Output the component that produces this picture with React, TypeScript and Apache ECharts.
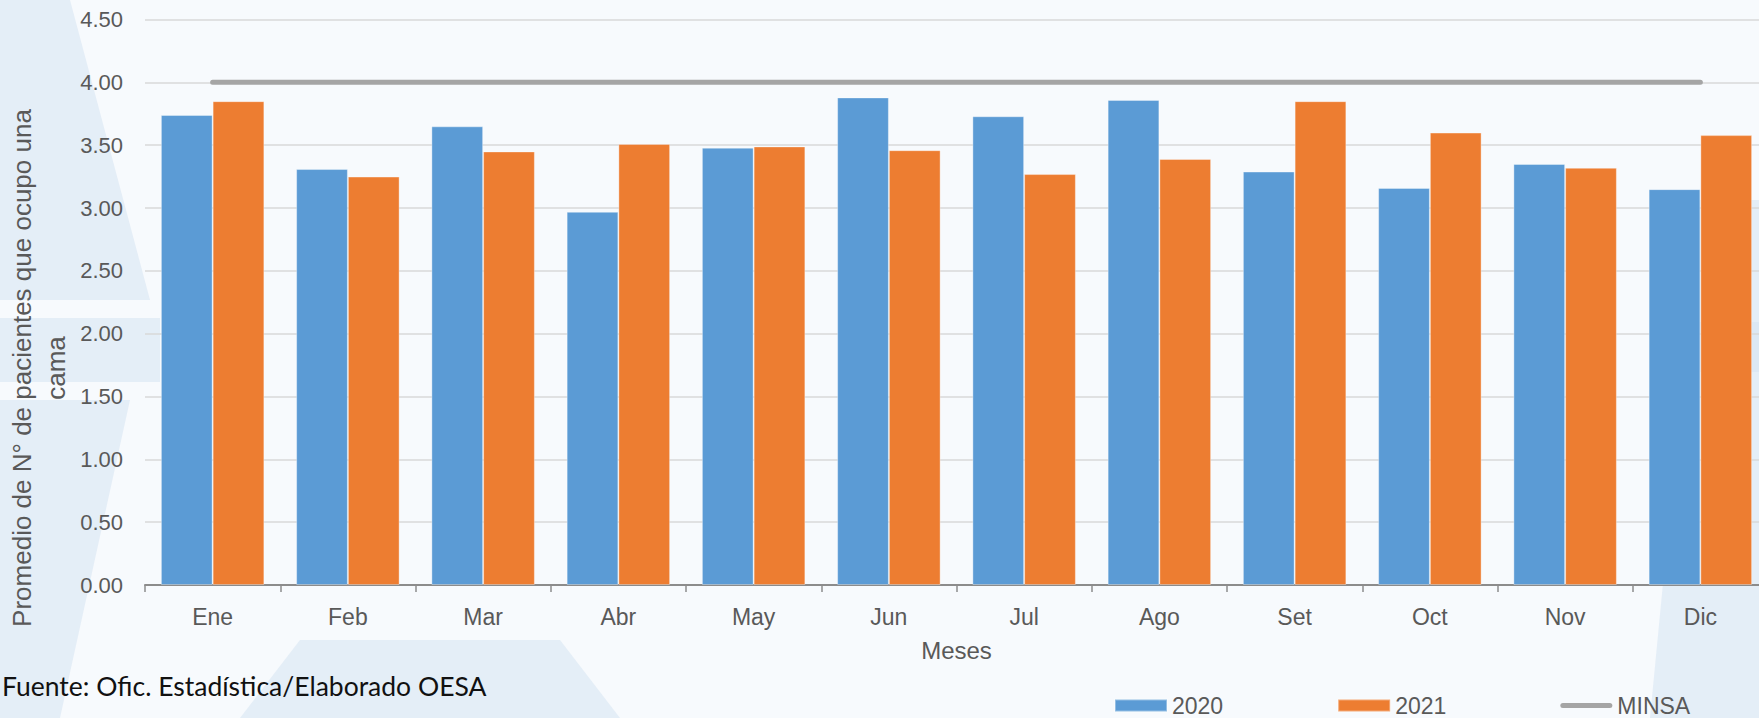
import React, { useEffect, useRef } from "react";
import * as echarts from "echarts";

const months = ["Ene", "Feb", "Mar", "Abr", "May", "Jun", "Jul", "Ago", "Set", "Oct", "Nov", "Dic"];
const values2020 = [3.74, 3.31, 3.65, 2.97, 3.48, 3.88, 3.73, 3.86, 3.29, 3.16, 3.35, 3.15];
const values2021 = [3.85, 3.25, 3.45, 3.51, 3.49, 3.46, 3.27, 3.39, 3.85, 3.6, 3.32, 3.58];
const minsa = [4, 4, 4, 4, 4, 4, 4, 4, 4, 4, 4, 4];
const seriesNames = ["2020", "2021", "MINSA"];
const yTitle = "Promedio de N° de pacientes que ocupo una\ncama";
const xTitle = "Meses";
const sourceNote = "Fuente: Ofic. Estadística/Elaborado OESA";

export default function App() {
  const ref = useRef<HTMLDivElement>(null);
  useEffect(() => {
    if (!ref.current) return;
    const chart = echarts.init(ref.current, null, { renderer: "svg" });
    const labelColor = "#595959";
    const font = "'Liberation Sans', Arial, sans-serif";
    const wm = "rgba(214,227,243,0.55)";
    chart.setOption({
      animation: false,
      backgroundColor: "#f7fafd",
      textStyle: { fontFamily: font },
      grid: { left: 145, top: 19.5, bottom: 133, right: -9, containLabel: false, outerBoundsMode: "none" },
      legend: {
        data: [
          { name: seriesNames[0], icon: "rect" },
          { name: seriesNames[1], icon: "rect" },
          { name: seriesNames[2], icon: "path://M0,0 M52,12 M2.5,3.5 L49.5,3.5 A2.5,2.5 0 0 1 49.5,8.5 L2.5,8.5 A2.5,2.5 0 0 1 2.5,3.5 Z" },
        ],
        left: 1109,
        top: 689,
        itemWidth: 52,
        itemHeight: 12,
        itemGap: 114,
        textStyle: { color: labelColor, fontSize: 23, fontFamily: font },
      },
      xAxis: {
        type: "category",
        data: months,
        name: xTitle,
        nameLocation: "middle",
        nameGap: 53,
        nameTextStyle: { color: labelColor, fontSize: 24, fontFamily: font },
        axisLine: { lineStyle: { color: "#8c8c8c", width: 2 } },
        axisTick: { show: true, length: 7, lineStyle: { color: "#8c8c8c", width: 1.5 } },
        axisLabel: { color: labelColor, fontSize: 23, margin: 20, fontFamily: font },
      },
      yAxis: {
        type: "value",
        min: 0,
        max: 4.5,
        interval: 0.5,
        axisLine: { show: false },
        axisTick: { show: false },
        splitLine: { lineStyle: { color: "#d9d9d9", width: 1.5 } },
        axisLabel: {
          color: labelColor,
          fontSize: 22,
          margin: 22,
          fontFamily: font,
          formatter: (v: number) => v.toFixed(2),
        },
      },
      series: [
        {
          name: seriesNames[0],
          type: "bar",
          data: values2020,
          barGap: "0%",
          barCategoryGap: "23.5%",
          itemStyle: { color: "#5b9bd5", borderColor: "rgba(255,255,255,0.35)", borderWidth: 1 },
        },
        {
          name: seriesNames[1],
          type: "bar",
          data: values2021,
          barGap: "0%",
          barCategoryGap: "23.5%",
          itemStyle: { color: "#ed7d31", borderColor: "rgba(255,255,255,0.35)", borderWidth: 1 },
        },
        {
          name: seriesNames[2],
          type: "line",
          data: minsa,
          symbol: "none",
          showSymbol: false,
          lineStyle: { color: "#a5a5a5", width: 5, cap: "round" },
          itemStyle: { color: "#a5a5a5" },
          z: 5,
        },
      ],
      graphic: [
        {
          type: "group",
          silent: true,
          z: -10,
          children: [
            { type: "polygon", shape: { points: [[0, 318], [160, 318], [160, 382], [0, 382]] }, style: { fill: wm } },
            { type: "polygon", shape: { points: [[1680, 322], [1759, 322], [1759, 372], [1680, 372]] }, style: { fill: wm } },
            { type: "polygon", shape: { points: [[0, 0], [70, 0], [150, 300], [0, 300]] }, style: { fill: wm } },
            { type: "polygon", shape: { points: [[0, 400], [130, 400], [60, 718], [0, 718]] }, style: { fill: wm } },
            { type: "polygon", shape: { points: [[1700, 200], [1759, 200], [1759, 718], [1650, 718]] }, style: { fill: wm } },
            { type: "polygon", shape: { points: [[300, 640], [560, 640], [620, 718], [240, 718]] }, style: { fill: wm } },
          ],
        },
        {
          type: "text",
          x: 39,
          y: 368,
          rotation: Math.PI / 2,
          style: {
            text: yTitle,
            fill: labelColor,
            fontSize: 26,
            fontFamily: font,
            lineHeight: 34,
            align: "center",
            verticalAlign: "middle",
          },
        },
        {
          type: "text",
          left: 2,
          top: 672,
          style: {
            text: sourceNote,
            fill: "#111111",
            fontSize: 26.5,
            fontFamily: "Lato, 'Open Sans', sans-serif",
          },
        },
      ],
    });
    return () => chart.dispose();
  }, []);
  return (
    <div
      ref={ref}
      style={{ position: "absolute", left: 0, top: 0, width: 1759, height: 718 }}
    />
  );
}
